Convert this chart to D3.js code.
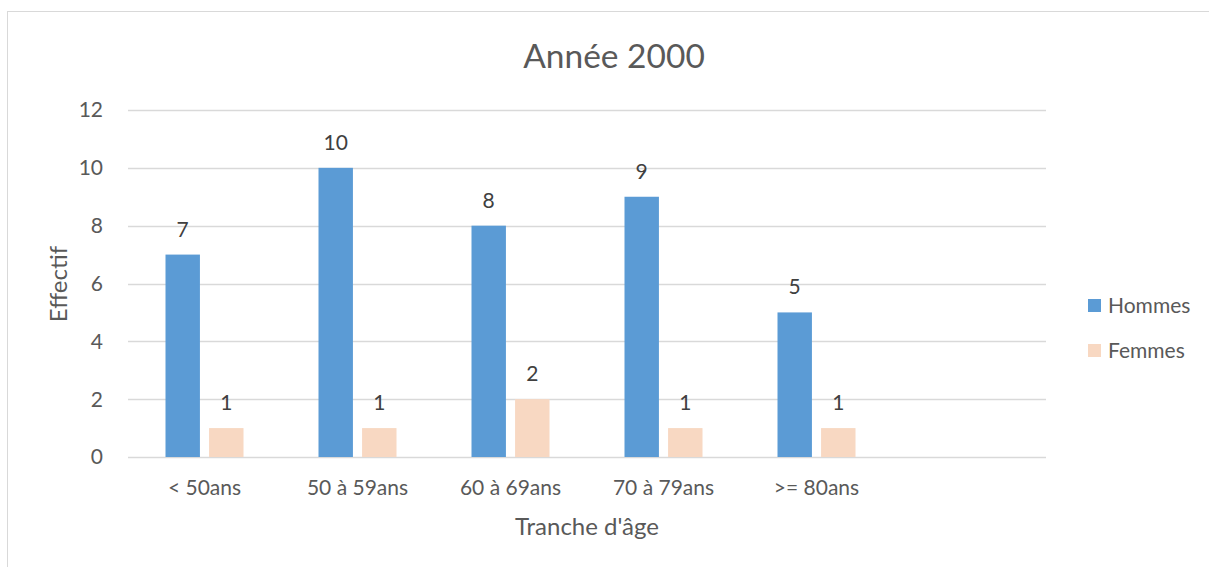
<!DOCTYPE html>
<html lang="fr">
<head>
<meta charset="utf-8">
<title>Année 2000</title>
<style>
  body { margin: 0; background: #fff; }
  svg text { font-family: Lato, "Open Sans", sans-serif; fill: #595959; }
</style>
</head>
<body>
<svg width="1209" height="567"></svg>
<script src="https://d3js.org/d3.v7.min.js"></script>
<script>

    var categories = ["< 50ans", "50 à 59ans", "60 à 69ans", "70 à 79ans", ">= 80ans", ""];
    var series = ["Hommes", "Femmes"];
    var hommes = [7, 10, 8, 9, 5, null];
    var femmes = [1, 1, 2, 1, 1, null];
    var yTicks = [0, 2, 4, 6, 8, 10, 12];
    var colors = ["#5b9bd5", "#f8d8c2"];

    var svg = d3.select("svg");

    // chart border
    svg.append("rect")
        .attr("x", 7.5).attr("y", 11.5)
        .attr("width", 1220).attr("height", 600)
        .attr("fill", "none")
        .attr("stroke", "#d9d9d9");

    var x = d3.scaleBand().domain(categories).range([128, 1046]);
    var xs = d3.scaleBand().domain(series).range([0, 78]).paddingInner(0.21);
    var y = d3.scaleLinear().domain([0, 12]).range([457, 110]);

    // gridlines
    svg.append("g")
        .selectAll("line")
        .data(yTicks)
        .join("line")
        .attr("x1", 128).attr("x2", 1046)
        .attr("y1", function(d) { return Math.round(y(d)) + 0.5; })
        .attr("y2", function(d) { return Math.round(y(d)) + 0.5; })
        .attr("stroke", "#d9d9d9")
        .attr("stroke-width", 1.3);

    // y tick labels
    svg.append("g")
        .selectAll("text")
        .data(yTicks)
        .join("text")
        .attr("x", 103)
        .attr("y", function(d) { return y(d); })
        .attr("dy", "0.35em")
        .attr("text-anchor", "end")
        .attr("font-size", 21)
        .text(function(d) { return d; });

    // x tick labels
    svg.append("g")
        .selectAll("text")
        .data(categories)
        .join("text")
        .attr("x", function(d) { return x(d) + x.bandwidth() / 2; })
        .attr("y", 495)
        .attr("text-anchor", "middle")
        .attr("font-size", 21)
        .text(function(d) { return d; });

    var rows = [hommes, femmes];
    rows.forEach(function(vals, si) {
        var data = categories.map(function(c, i) { return { cat: c, v: vals[i] }; })
            .filter(function(d) { return d.v != null; });
        var g = svg.append("g");
        var off = (x.bandwidth() - 78) / 2 + xs(series[si]);
        g.selectAll("rect")
            .data(data)
            .join("rect")
            .attr("x", function(d) { return x(d.cat) + off; })
            .attr("y", function(d) { return y(d.v); })
            .attr("width", xs.bandwidth())
            .attr("height", function(d) { return y(0) - y(d.v); })
            .attr("fill", colors[si]);
        g.selectAll("text")
            .data(data)
            .join("text")
            .attr("x", function(d) { return x(d.cat) + off + xs.bandwidth() / 2; })
            .attr("y", function(d) { return y(d.v) - 18; })
            .attr("text-anchor", "middle")
            .attr("font-size", 21)
            .style("fill", "#404040")
            .text(function(d) { return d.v; });
    });

    // title
    svg.append("text")
        .attr("x", 614).attr("y", 68)
        .attr("text-anchor", "middle")
        .attr("font-size", 33.5)
        .text("Année 2000");

    // axis titles
    svg.append("text")
        .attr("x", 587).attr("y", 535)
        .attr("text-anchor", "middle")
        .attr("font-size", 24)
        .text("Tranche d'âge");

    svg.append("text")
        .attr("transform", "translate(67,284) rotate(-90)")
        .attr("text-anchor", "middle")
        .attr("font-size", 24)
        .text("Effectif");

    // legend
    var lg = svg.append("g")
        .selectAll("g")
        .data(series)
        .join("g")
        .attr("transform", function(d, i) { return "translate(1088," + (299 + i * 45) + ")"; });
    lg.append("rect")
        .attr("width", 13).attr("height", 13)
        .attr("fill", function(d, i) { return colors[i]; });
    lg.append("text")
        .attr("x", 20).attr("y", 7)
        .attr("dy", "0.35em")
        .attr("font-size", 21)
        .text(function(d) { return d; });

</script>
</body>
</html>
